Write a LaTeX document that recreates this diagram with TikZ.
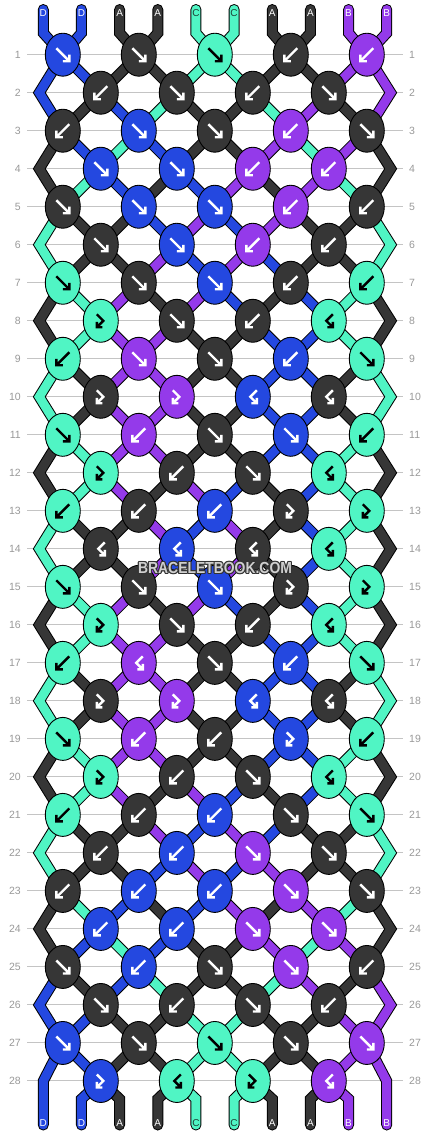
\documentclass[tikz,border=0pt]{standalone}
\usepackage{fontspec}
\setmainfont{Liberation Sans}
\usetikzlibrary{shapes.geometric}
\definecolor{cD}{HTML}{2448E0}
\definecolor{cA}{HTML}{363636}
\definecolor{cC}{HTML}{50F5C4}
\definecolor{cB}{HTML}{943AEA}
\definecolor{aD}{HTML}{FFFFFF}
\definecolor{aA}{HTML}{FFFFFF}
\definecolor{aB}{HTML}{FFFFFF}
\definecolor{aC}{HTML}{000000}
\definecolor{lD}{HTML}{FFFFFF}
\definecolor{lA}{HTML}{FFFFFF}
\definecolor{lB}{HTML}{FFFFFF}
\definecolor{lC}{HTML}{1E3F35}
\definecolor{rowgray}{HTML}{999999}
\definecolor{gridgray}{HTML}{C4C4C4}
\definecolor{wmfill}{HTML}{CFCFCF}
\definecolor{wmline}{HTML}{333333}
\pgfdeclarelayer{grid}\pgfdeclarelayer{outl}\pgfdeclarelayer{segs}
\pgfsetlayers{grid,outl,segs,main}
\tikzset{
  knot/.style={ellipse, draw=black, line width=0.9, minimum width=35, minimum height=43, inner sep=0},
  strout/.style={draw=black, line width=11, line cap=round, line join=miter},
  strin/.style={line width=9, line cap=round, line join=miter},
  sym/.style={line width=2.4, line cap=butt, line join=miter},
  rownum/.style={text=rowgray, font=\fontsize{10.5}{12}\selectfont, inner sep=0},
  gridline/.style={draw=gridgray, line width=1},
  endlabel/.style={font=\fontsize{10}{12}\selectfont, inner sep=0},
  wm/.style={font=\fontsize{16}{18}\selectfont\bfseries, inner sep=0},
  segpass/.style={strout},
}
\newcommand\strseg[2]{\draw[segpass=#1] #2;}
\newcommand\symF[2]{\draw[sym, draw=#2, shift={(#1.center)}] (-6.5,-6.5) -- (5.5,5.5) (6.5,0) -- (6.5,6.5) -- (0,6.5);}
\newcommand\symB[2]{\draw[sym, draw=#2, shift={(#1.center)}] (6.5,-6.5) -- (-5.5,5.5) (-6.5,0) -- (-6.5,6.5) -- (0,6.5);}
\newcommand\symFB[2]{\draw[sym, draw=#2, shift={(#1.center)}] (-4,-6.5) -- (2.5,0) -- (-3.2,5.7) (-4,1) -- (-4,6.5) -- (1.5,6.5);}
\newcommand\symBF[2]{\draw[sym, draw=#2, shift={(#1.center)}] (4,-6.5) -- (-2.5,0) -- (3.2,5.7) (4,1) -- (4,6.5) -- (-1.5,6.5);}
\newcommand\segloop{%
\foreach \rw/\sta in {
 0/{D,D,A,A,C,C,A,A,B,B},
 1/{D,D,A,A,C,C,A,A,B,B},
 2/{D,A,D,C,A,A,C,B,A,B},
 3/{A,D,C,D,A,A,B,C,B,A},
 4/{A,C,D,A,D,B,A,B,C,A},
 5/{C,A,A,D,B,D,B,A,A,C},
 6/{C,A,A,B,D,B,D,A,A,C},
 7/{A,C,B,A,B,D,A,D,C,A},
 8/{A,C,B,B,A,A,D,D,C,A},
 9/{C,A,B,B,A,A,D,D,A,C},
 10/{C,A,B,B,A,A,D,D,A,C},
 11/{A,C,B,B,A,A,D,D,C,A},
 12/{A,C,B,A,B,D,A,D,C,A},
 13/{C,A,A,B,D,B,A,D,C,A},
 14/{C,A,A,B,D,B,A,D,C,A},
 15/{A,C,B,A,B,D,A,D,C,A},
 16/{A,C,B,B,A,A,D,D,C,A},
 17/{C,A,B,B,A,A,D,D,A,C},
 18/{C,A,B,B,A,A,D,D,A,C},
 19/{A,C,B,B,A,A,D,D,C,A},
 20/{A,C,B,A,B,D,A,D,C,A},
 21/{C,A,A,B,D,B,D,A,A,C},
 22/{C,A,A,D,B,D,B,A,A,C},
 23/{A,C,D,A,D,B,A,B,C,A},
 24/{A,D,C,D,A,A,B,C,B,A},
 25/{D,A,D,C,A,A,C,B,A,B},
 26/{D,D,A,A,C,C,A,A,B,B},
 27/{D,D,A,A,C,C,A,A,B,B},
 28/{D,D,A,A,C,C,A,A,B,B}}{
  \pgfmathtruncatemacro\rn{\rw+1}
  \pgfmathtruncatemacro\rnn{\rw+2}
  \foreach \cl [count=\ix] in \sta {
    \ifnum\rw=0\relax
      \pgfmathtruncatemacro\kk{ceil(\ix/2)}
      \strseg{\cl}{(ts-\ix) -- (t-\ix) -- (k-1-\kk.center)}
    \else\ifnum\rw=28\relax
      \ifnum\ix=1\relax\else\ifnum\ix=10\relax\else
        \pgfmathtruncatemacro\kk{floor(\ix/2)}
        \strseg{\cl}{(k-28-\kk.center) -- (b-\ix) -- (be-\ix)}
      \fi\fi
    \else
      \ifodd\rw\relax
        \pgfmathtruncatemacro\kk{ceil(\ix/2)}
        \ifnum\ix=1\relax
          \ifnum\rw=27\relax
            \strseg{\cl}{(k-27-1.center) -- (eL-28) -- (be-1)}
          \else
            \strseg{\cl}{(k-\rw-1.center) -- (eL-\rn) -- (k-\rnn-1.center)}
          \fi
        \else\ifnum\ix=10\relax
          \ifnum\rw=27\relax
            \strseg{\cl}{(k-27-5.center) -- (eR-28) -- (be-10)}
          \else
            \strseg{\cl}{(k-\rw-5.center) -- (eR-\rn) -- (k-\rnn-5.center)}
          \fi
        \else
          \pgfmathtruncatemacro\kt{floor(\ix/2)}
          \strseg{\cl}{(k-\rw-\kk.center) -- (k-\rn-\kt.center)}
        \fi\fi
      \else
        \ifnum\ix=1\relax\else\ifnum\ix=10\relax\else
          \pgfmathtruncatemacro\kk{floor(\ix/2)}
          \pgfmathtruncatemacro\kt{ceil(\ix/2)}
          \strseg{\cl}{(k-\rw-\kk.center) -- (k-\rn-\kt.center)}
        \fi\fi
      \fi
    \fi\fi
  }
}}
\begin{document}
\begin{tikzpicture}[x=1pt,y=-1pt]
\useasboundingbox (0,0) rectangle (430,1136);
% row numbers
\foreach \rw in {1,...,28}{
  \pgfmathsetmacro\ky{54.7+(\rw-1)*38.01}
  \node[rownum, anchor=east] (nl-\rw) at (21,\ky) {\rw};
  \node[rownum, anchor=west] (nr-\rw) at (409,\ky) {\rw};
}
\begin{pgfonlayer}{grid}
\fill[white] (0,0) rectangle (430,1136);
\foreach \rw in {1,...,28}{
  \draw[gridline] ([xshift=6]nl-\rw.east) -- ([xshift=-6]nr-\rw.west);
}
\end{pgfonlayer}
% knots
\foreach \rw/\ks in {
 1/{F/D,F/A,F/C,B/A,B/B},
 2/{B/A,F/A,B/A,F/A},
 3/{B/A,F/D,F/A,B/B,F/A},
 4/{F/D,F/D,B/B,B/B},
 5/{F/A,F/D,F/D,B/B,B/A},
 6/{F/A,F/D,B/B,B/A},
 7/{F/C,F/A,F/D,B/A,B/C},
 8/{FB/C,F/A,B/A,BF/C},
 9/{B/C,F/B,F/A,B/D,F/C},
 10/{FB/A,FB/B,BF/D,BF/A},
 11/{F/C,B/B,F/A,F/D,B/C},
 12/{FB/C,B/A,F/A,BF/C},
 13/{B/C,B/A,B/D,FB/A,FB/C},
 14/{BF/A,BF/D,BF/A,BF/C},
 15/{F/C,F/A,F/D,FB/A,FB/C},
 16/{FB/C,F/A,B/A,BF/C},
 17/{B/C,BF/B,F/A,B/D,F/C},
 18/{FB/A,FB/B,BF/D,BF/A},
 19/{F/C,B/B,B/A,FB/D,B/C},
 20/{FB/C,B/A,F/A,BF/C},
 21/{B/C,B/A,B/D,F/A,F/C},
 22/{B/A,B/D,F/B,F/A},
 23/{B/A,B/D,B/D,F/B,F/A},
 24/{B/D,B/D,F/B,F/B},
 25/{F/A,B/D,F/A,F/B,B/A},
 26/{F/A,B/A,F/A,B/A},
 27/{F/D,F/A,F/C,F/A,F/B},
 28/{FB/D,BF/C,FB/C,BF/B}}{
  \foreach \ty/\cl [count=\kn] in \ks {
    \ifodd\rw\relax
      \pgfmathsetmacro\kx{62.8+76*(\kn-1)}
    \else
      \pgfmathsetmacro\kx{100.8+76*(\kn-1)}
    \fi
    \pgfmathsetmacro\ky{54.7+(\rw-1)*38.01}
    \node[knot, fill=c\cl] (k-\rw-\kn) at (\kx,\ky) {};
    \csname sym\ty\endcsname{k-\rw-\kn}{a\cl}
  }
}
% edge points
\foreach \rw in {2,4,...,26}{
  \pgfmathsetmacro\ky{54.7+(\rw-1)*38.01}
  \coordinate (eL-\rw) at (39.3,\ky);
  \coordinate (eR-\rw) at (390.7,\ky);
}
\coordinate (eL-28) at (43.3,1081);
\coordinate (eR-28) at (386.7,1081);
% string ends
\foreach \ix in {1,...,10}{
  \pgfmathsetmacro\sx{43.3+38.16*(\ix-1)}
  \coordinate (ts-\ix) at (\sx,9.5);
  \coordinate (t-\ix) at (\sx,33);
  \coordinate (b-\ix) at (\sx,1099);
  \coordinate (be-\ix) at (\sx,1125);
}
% string segments: outline pass, then colour pass
\begin{pgfonlayer}{outl}
\tikzset{segpass/.style={strout}}
\segloop
\end{pgfonlayer}
\begin{pgfonlayer}{segs}
\tikzset{segpass/.style={strin, draw=c#1}}
\segloop
% end labels
\foreach \cl [count=\ix] in {D,D,A,A,C,C,A,A,B,B}{
  \node[endlabel, text=l\cl] (lt-\ix) at (ts-\ix |- 0,13) {\cl};
  \node[endlabel, text=l\cl] (lb-\ix) at (ts-\ix |- 0,1123.5) {\cl};
}
\end{pgfonlayer}
% watermark
\foreach \a in {0,45,...,315}{
  \node[wm, text=wmline, shift={(\a:1.1)}] (wmh-\a) at (215,568) {\scalebox{0.87}[1]{BRACELETBOOK.COM}};
}
\node[wm, text=wmfill] (wm) at (215,568) {\scalebox{0.87}[1]{BRACELETBOOK.COM}};
\end{tikzpicture}
\end{document}
